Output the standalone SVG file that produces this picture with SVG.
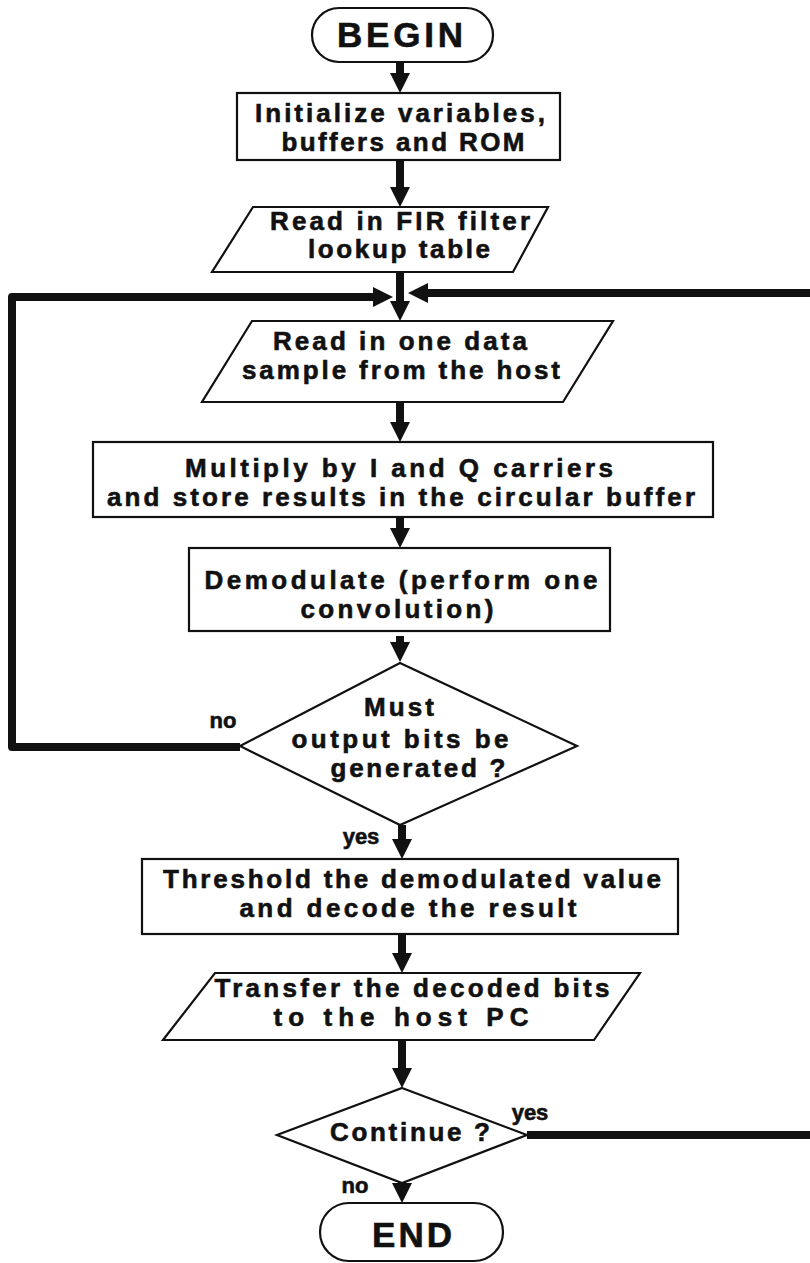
<svg xmlns="http://www.w3.org/2000/svg" width="810" height="1263" viewBox="0 0 810 1263">
  <defs>
    <marker id="arrow" markerUnits="userSpaceOnUse" markerWidth="20" markerHeight="20" refX="0" refY="10" orient="auto">
      <path d="M0,0 L20,10 L0,20 Z" fill="#111"/>
    </marker>
    <style>
      .shape { fill: #fff; stroke: #111; stroke-width: 2.2; }
      .flow { fill: none; stroke: #111; stroke-width: 8; stroke-linejoin: round; marker-end: url(#arrow); }
      text { font-family: "Liberation Sans", Arial, Helvetica, sans-serif; font-weight: bold; fill: #111; stroke: #111; stroke-width: 0.6; text-anchor: middle; }
      .t { font-size: 26px; }
      .term { font-size: 35px; }
      .lbl { font-size: 22px; }
    </style>
  </defs>
  <rect width="810" height="1263" fill="#fff"/>

  <!-- connectors -->
  <g id="connectors">
    <path class="flow" d="M400,62 V73"/>
    <path class="flow" d="M400,160 V187"/>
    <path class="flow" d="M400,272 V301"/>
    <path class="flow" d="M400,402 V422"/>
    <path class="flow" d="M400,517 V528"/>
    <path class="flow" d="M400,636 V642"/>
    <path class="flow" d="M402,825 V839"/>
    <path class="flow" d="M402,934 V953"/>
    <path class="flow" d="M402,1040 V1068"/>
    <path class="flow" d="M402,1180 V1183"/>
    <!-- "no" branch loops back above the sample input -->
    <path class="flow" d="M240,747 H12 V297 H373"/>
    <!-- "yes" branch of Continue returns along the right margin -->
    <path class="flow" d="M527,1135 H840 V293 H428"/>
    <text class="lbl" x="223" y="728">no</text>
    <text class="lbl" x="361" y="844">yes</text>
    <text class="lbl" x="530" y="1120">yes</text>
    <text class="lbl" x="355" y="1193">no</text>
  </g>

  <g id="begin">
    <rect class="shape" x="312" y="8" width="181" height="54" rx="27" ry="27"/>
    <text class="term" x="400" y="47" textLength="126" lengthAdjust="spacing">BEGIN</text>
  </g>

  <g id="init">
    <rect class="shape" x="237" y="93" width="323" height="67"/>
    <text class="t" x="400" y="122" textLength="290" lengthAdjust="spacing">Initialize variables,</text>
    <text class="t" x="403" y="151" textLength="243" lengthAdjust="spacing">buffers and ROM</text>
  </g>

  <g id="read-fir">
    <polygon class="shape" points="253,207 548,207 513,272 212,272"/>
    <text class="t" x="400" y="230" textLength="260" lengthAdjust="spacing">Read in FIR filter</text>
    <text class="t" x="399" y="258" textLength="182" lengthAdjust="spacing">lookup table</text>
  </g>

  <g id="read-sample">
    <polygon class="shape" points="252,321 613,321 563,402 202,402"/>
    <text class="t" x="400" y="350" textLength="254" lengthAdjust="spacing">Read in one data</text>
    <text class="t" x="401" y="379" textLength="318" lengthAdjust="spacing">sample from the host</text>
  </g>

  <g id="multiply">
    <rect class="shape" x="93" y="442" width="620" height="75"/>
    <text class="t" x="399" y="477" textLength="428" lengthAdjust="spacing">Multiply by I and Q carriers</text>
    <text class="t" x="401" y="506" textLength="588" lengthAdjust="spacing">and store results in the circular buffer</text>
  </g>

  <g id="demodulate">
    <rect class="shape" x="189" y="548" width="421" height="83"/>
    <text class="t" x="401" y="589" textLength="393" lengthAdjust="spacing">Demodulate (perform one</text>
    <text class="t" x="397" y="618" textLength="193" lengthAdjust="spacing">convolution)</text>
  </g>

  <g id="must-output">
    <polygon class="shape" points="400,663 577,746 400,825 240,746"/>
    <text class="t" x="399" y="716" textLength="70" lengthAdjust="spacing">Must</text>
    <text class="t" x="400" y="748" textLength="217" lengthAdjust="spacing">output bits be</text>
    <text class="t" x="418" y="777" textLength="175" lengthAdjust="spacing">generated ?</text>
  </g>

  <g id="threshold">
    <rect class="shape" x="142" y="859" width="536" height="75"/>
    <text class="t" x="412" y="888" textLength="498" lengthAdjust="spacing">Threshold the demodulated value</text>
    <text class="t" x="408" y="917" textLength="337" lengthAdjust="spacing">and decode the result</text>
  </g>

  <g id="transfer">
    <polygon class="shape" points="215,973 640,973 594,1040 163,1040"/>
    <text class="t" x="412" y="997" textLength="395" lengthAdjust="spacing">Transfer the decoded bits</text>
    <text class="t" x="401" y="1026" textLength="255" lengthAdjust="spacing">to the host PC</text>
  </g>

  <g id="continue">
    <polygon class="shape" points="402,1088 527,1135 402,1183 277,1135"/>
    <text class="t" x="410" y="1141" textLength="160" lengthAdjust="spacing">Continue ?</text>
  </g>

  <g id="end">
    <rect class="shape" x="320" y="1203" width="183" height="58" rx="29" ry="29"/>
    <text class="term" x="412" y="1247" textLength="80" lengthAdjust="spacing">END</text>
  </g>
</svg>
